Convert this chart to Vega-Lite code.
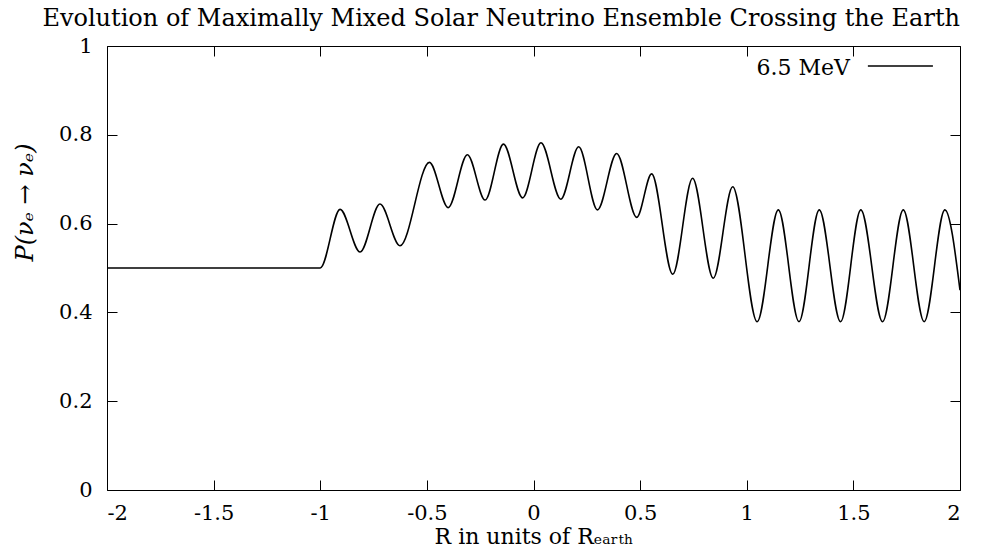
{
  "$schema": "https://vega.github.io/schema/vega-lite/v6.json",
  "width": 853,
  "height": 444,
  "autosize": {"type": "none"},
  "padding": {"left": 107, "top": 46, "right": 22, "bottom": 67},
  "background": "white",
  "config": {
    "font": "DejaVu Serif",
    "view": {"stroke": null},
    "axis": {
      "domainColor": "black",
      "domainWidth": 1,
      "tickColor": "black",
      "tickWidth": 1,
      "grid": false,
      "labelFont": "DejaVu Serif",
      "labelFontSize": 21,
      "labelColor": "black",
      "titleFont": "DejaVu Serif",
      "titleFontSize": 22,
      "titleFontWeight": "normal",
      "titleColor": "black"
    }
  },
  "title": {
    "text": "Evolution of Maximally Mixed Solar Neutrino Ensemble Crossing the Earth",
    "anchor": "end",
    "frame": "group",
    "font": "DejaVu Serif",
    "fontSize": 24,
    "fontWeight": "normal",
    "color": "black",
    "offset": 4
  },
  "datasets": {
    "curve": [
      {"R": -2.0, "P": 0.5},
      {"R": -1.0, "P": 0.5},
      {"R": -0.907, "P": 0.632},
      {"R": -0.813, "P": 0.536},
      {"R": -0.72, "P": 0.644},
      {"R": -0.626, "P": 0.55},
      {"R": -0.488, "P": 0.738},
      {"R": -0.40, "P": 0.636},
      {"R": -0.31, "P": 0.755},
      {"R": -0.227, "P": 0.653},
      {"R": -0.141, "P": 0.779},
      {"R": -0.051, "P": 0.658},
      {"R": 0.035, "P": 0.782},
      {"R": 0.128, "P": 0.655},
      {"R": 0.212, "P": 0.773},
      {"R": 0.30, "P": 0.631},
      {"R": 0.39, "P": 0.758},
      {"R": 0.484, "P": 0.614},
      {"R": 0.554, "P": 0.712},
      {"R": 0.653, "P": 0.486},
      {"R": 0.746, "P": 0.702},
      {"R": 0.843, "P": 0.477},
      {"R": 0.934, "P": 0.683},
      {"R": 1.049, "P": 0.379},
      {"R": 1.148, "P": 0.631},
      {"R": 1.245, "P": 0.379},
      {"R": 1.34, "P": 0.631},
      {"R": 1.44, "P": 0.379},
      {"R": 1.535, "P": 0.631},
      {"R": 1.637, "P": 0.379},
      {"R": 1.734, "P": 0.631},
      {"R": 1.832, "P": 0.379},
      {"R": 1.929, "P": 0.631},
      {"R": 2.0, "P": 0.45}
    ],
    "legendText": [{"R": 1.484, "P": 0.955, "label": "6.5 MeV"}],
    "legendLine": [{"R": 1.568, "R2": 1.873, "P": 0.955}]
  },
  "layer": [
    {
      "data": {"name": "curve"},
      "mark": {"type": "line", "color": "black", "strokeWidth": 1.6, "interpolate": "monotone", "clip": true},
      "encoding": {
        "x": {
          "field": "R", "type": "quantitative",
          "scale": {"domain": [-2, 2], "nice": false, "zero": false},
          "axis": {
            "orient": "bottom",
            "values": [-2, -1.5, -1, -0.5, 0, 0.5, 1, 1.5, 2],
            "labelExpr": "'' + datum.value",
            "tickSize": -10,
            "labelPadding": 22,
            "title": "R in units of Rₑₐᵣₜₕ",
            "titlePadding": 3
          }
        },
        "y": {
          "field": "P", "type": "quantitative",
          "scale": {"domain": [0, 1], "nice": false, "zero": false},
          "axis": {
            "orient": "left",
            "values": [0, 0.2, 0.4, 0.6, 0.8, 1],
            "labelExpr": "'' + datum.value",
            "tickSize": -10,
            "labelPadding": 25,
            "title": "P(νₑ → νₑ)",
            "titleFontStyle": "italic",
            "titleFontSize": 24,
            "titleX": -82,
            "titleY": 156,
            "titleAlign": "center",
            "titleBaseline": "middle",
            "titleAngle": -90
          }
        }
      }
    },
    {
      "data": {"name": "curve"},
      "mark": {"type": "line", "opacity": 0},
      "encoding": {
        "x": {
          "field": "R", "type": "quantitative",
          "scale": {"domain": [-2, 2], "nice": false, "zero": false},
          "axis": {
            "orient": "top",
            "values": [-2, -1.5, -1, -0.5, 0, 0.5, 1, 1.5, 2],
            "labels": false,
            "tickSize": -10,
            "title": null
          }
        },
        "y": {
          "field": "P", "type": "quantitative",
          "scale": {"domain": [0, 1], "nice": false, "zero": false},
          "axis": {
            "orient": "right",
            "values": [0, 0.2, 0.4, 0.6, 0.8, 1],
            "labels": false,
            "tickSize": -10,
            "title": null
          }
        }
      }
    },
    {
      "data": {"name": "legendText"},
      "mark": {"type": "text", "align": "right", "baseline": "middle", "font": "DejaVu Serif", "fontSize": 22, "color": "black", "dy": 2},
      "encoding": {
        "x": {"field": "R", "type": "quantitative", "axis": null},
        "y": {"field": "P", "type": "quantitative", "axis": null},
        "text": {"field": "label"}
      }
    },
    {
      "data": {"name": "legendLine"},
      "mark": {"type": "rule", "color": "black", "strokeWidth": 1.6},
      "encoding": {
        "x": {"field": "R", "type": "quantitative", "axis": null},
        "x2": {"field": "R2"},
        "y": {"field": "P", "type": "quantitative", "axis": null}
      }
    }
  ],
  "resolve": {"axis": {"x": "independent", "y": "independent"}}
}
